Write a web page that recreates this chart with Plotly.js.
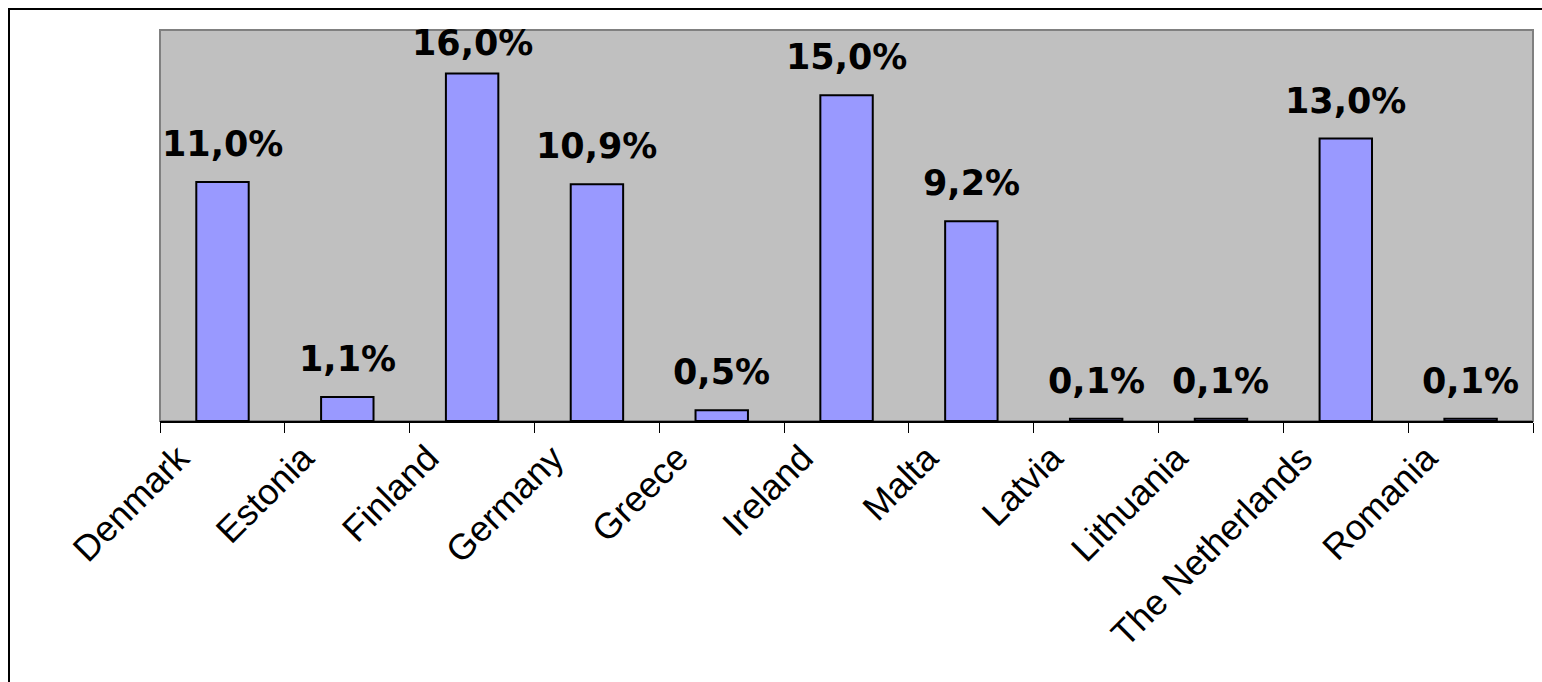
<!DOCTYPE html>
<html>
<head>
<meta charset="utf-8">
<script src="https://cdn.plot.ly/plotly-3.0.1.min.js"></script>
<style>
html,body{margin:0;padding:0;background:#fff;}
#frame{position:absolute;left:8px;top:8px;width:1540px;height:700px;border-top:2px solid #000;border-left:2px solid #000;box-sizing:border-box;}
#chart{position:absolute;left:0;top:0;width:1542px;height:682px;}
</style>
</head>
<body>
<div id="frame"></div>
<div id="chart"></div>
<script>
var countries = ["Denmark","Estonia","Finland","Germany","Greece","Ireland","Malta","Latvia","Lithuania","The Netherlands","Romania"];
var shares = [11.0, 1.1, 16.0, 10.9, 0.5, 15.0, 9.2, 0.1, 0.1, 13.0, 0.1];
var labels = shares.map(function(v){ return v.toFixed(1).replace('.', ',') + '%'; });

var yMax = 18;
var M = {l: 160, r: 9, t: 30, b: 261};
var plotH = 682 - M.t - M.b;

var trace = {
  type: 'bar',
  x: countries,
  y: shares,
  width: 0.42,
  marker: {color: '#9999FF', line: {color: '#000000', width: 2}},
  hoverinfo: 'x+y'
};

// label above each bar; labels near the top are pushed down to stay inside the plot area
var annotations = countries.map(function(c, i){
  var barTop = M.t + (1 - shares[i] / yMax) * plotH;
  var desired = barTop - 24;
  var base = Math.max(desired, 57);
  var shift = 16 - (base - desired);
  return {
    x: c, y: shares[i], xref: 'x', yref: 'y',
    text: labels[i], showarrow: false,
    yanchor: 'bottom', xanchor: 'center', yshift: shift,
    font: {family: 'DejaVu Sans, Arial, sans-serif', size: 35, color: '#000', weight: 'bold'}
  };
});

var layout = {
  width: 1542, height: 682,
  margin: {l: M.l, r: M.r, t: M.t, b: M.b, pad: 0},
  paper_bgcolor: 'rgba(0,0,0,0)',
  plot_bgcolor: '#C0C0C0',
  showlegend: false,
  bargap: 0.58,
  xaxis: {
    type: 'category',
    tickangle: -45,
    tickson: 'boundaries',
    ticks: 'outside', ticklen: 10, tickcolor: '#000', tickwidth: 1,
    ticklabelshift: -44,
    showline: true, linecolor: '#000', linewidth: 1.5,
    showgrid: false,
    tickfont: {family: 'Liberation Sans, Arial, sans-serif', size: 36, color: '#000'}
  },
  yaxis: {
    range: [0, yMax],
    showticklabels: false, ticks: '', showgrid: false, zeroline: false,
    showline: false
  },
  shapes: [{
    type: 'rect', xref: 'paper', yref: 'paper', x0: 0, x1: 1, y0: 0, y1: 1,
    line: {color: '#808080', width: 2}, fillcolor: 'rgba(0,0,0,0)', layer: 'below'
  }],
  annotations: annotations
};

Plotly.newPlot('chart', [trace], layout, {displayModeBar: false, staticPlot: true});
</script>
</body>
</html>
